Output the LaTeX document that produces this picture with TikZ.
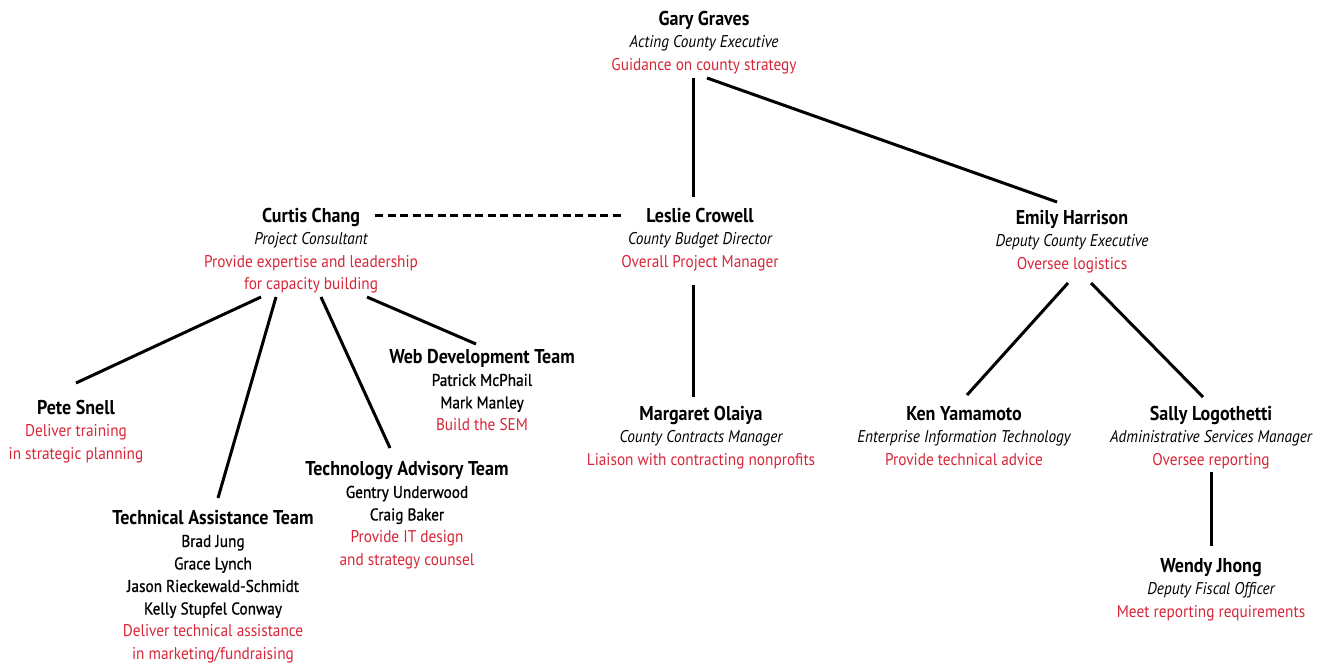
\documentclass[tikz,border=0pt]{standalone}
\usepackage{fontspec}
\setmainfont{PT Sans}[FakeStretch=0.9]
\definecolor{taskred}{RGB}{215,38,56}
\newcommand\nm[1]{{\fontsize{20}{22.5}\selectfont\bfseries #1}}
\newcommand\rl[1]{{\itshape #1}}
\newcommand\tk[1]{{\color{taskred}#1}}
\newcommand\mb[1]{{\addfontfeature{FakeBold=0.9}#1}}
\tikzset{
  person/.style={anchor=north, inner sep=0pt, align=center, font=\fontsize{17}{22.5}\selectfont},
  conn/.style={line width=3pt},
  dconn/.style={line width=3pt, dash pattern=on 8pt off 4.5pt}
}
\begin{document}
\begin{tikzpicture}[x=1pt,y=-1pt]
\useasboundingbox (0,0) rectangle (1329,665);
\node[person] (gary) at (704,11) {\nm{Gary Graves}\\\rl{Acting County Executive}\\\tk{Guidance on county strategy}};
\node[person] (leslie) at (700,208) {\nm{Leslie Crowell}\\\rl{County Budget Director}\\\tk{Overall Project Manager}};
\node[person] (curtis) at (311,208) {\nm{Curtis Chang}\\\rl{Project Consultant}\\\tk{Provide expertise and leadership}\\\tk{for capacity building}};
\node[person] (emily) at (1072,210) {\nm{Emily Harrison}\\\rl{Deputy County Executive}\\\tk{Oversee logistics}};
\node[person] (margaret) at (701,406) {\nm{Margaret Olaiya}\\\rl{County Contracts Manager}\\\tk{Liaison with contracting nonprofits}};
\node[person] (ken) at (964,406) {\nm{Ken Yamamoto}\\\rl{Enterprise Information Technology}\\\tk{Provide technical advice}};
\node[person] (sally) at (1211,406) {\nm{Sally Logothetti}\\\rl{Administrative Services Manager}\\\tk{Oversee reporting}};
\node[person] (wendy) at (1211,558) {\nm{Wendy Jhong}\\\rl{Deputy Fiscal Officer}\\\tk{Meet reporting requirements}};
\node[person] (pete) at (76,400) {\nm{Pete Snell}\\\tk{Deliver training}\\\tk{in strategic planning}};
\node[person] (web) at (482,349) {\nm{Web Development Team}\\\mb{Patrick McPhail}\\\mb{Mark Manley}\\\tk{Build the SEM}};
\node[person] (techadv) at (407,461) {\nm{Technology Advisory Team}\\\mb{Gentry Underwood}\\\mb{Craig Baker}\\\tk{Provide IT design}\\\tk{and strategy counsel}};
\node[person] (ta) at (213,510) {\nm{Technical Assistance Team}\\\mb{Brad Jung}\\\mb{Grace Lynch}\\\mb{Jason Rieckewald-Schmidt}\\\mb{Kelly Stupfel Conway}\\\tk{Deliver technical assistance}\\\tk{in marketing/fundraising}};

\draw[conn] ([shift={(-11,67)}]gary.north) -- ([shift={(-7,-11)}]leslie.north);
\draw[conn] ([shift={(3,67)}]gary.north) -- ([shift={(-15,-8)}]emily.north);
\draw[dconn] ([shift={(64,7)}]curtis.north) -- ([shift={(-76,7)}]leslie.north);
\draw[conn] ([shift={(-7,77)}]leslie.north) -- ([shift={(-8,-9)}]margaret.north);
\draw[conn] ([shift={(-4,73)}]emily.north) -- ([shift={(3,-11)}]ken.north);
\draw[conn] ([shift={(19,73)}]emily.north) -- ([shift={(-8,-9)}]sally.north);
\draw[conn] ([shift={(0,66)}]sally.north) -- ([shift={(0,-12)}]wendy.north);
\draw[conn] ([shift={(-50,89)}]curtis.north) -- ([shift={(0,-17)}]pete.north);
\draw[conn] ([shift={(-35,89)}]curtis.north) -- ([shift={(5,-12)}]ta.north);
\draw[conn] ([shift={(10,89)}]curtis.north) -- ([shift={(-17,-13)}]techadv.north);
\draw[conn] ([shift={(56,89)}]curtis.north) -- ([shift={(-6,-5)}]web.north);
\end{tikzpicture}
\end{document}
